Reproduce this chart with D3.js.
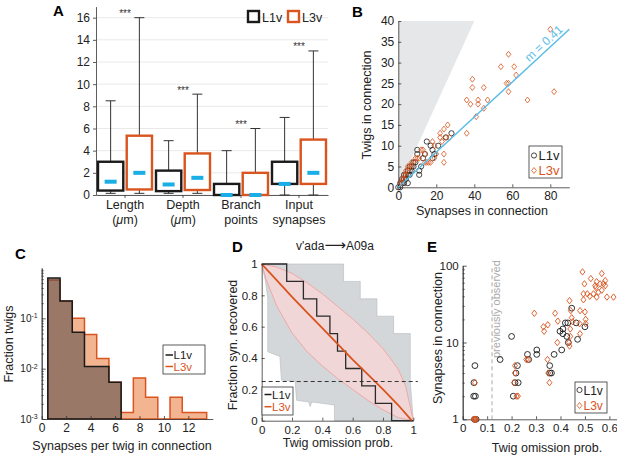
<!DOCTYPE html>
<html>
<head>
<meta charset="utf-8">
<script src="https://cdn.jsdelivr.net/npm/d3@7"></script>
<style>
  body { margin: 0; background: #fff; }
  svg { font-family: "Liberation Sans", Arial, sans-serif; }
</style>
</head>
<body>
<svg id="fig" width="617" height="458"></svg>
<script>
// ---------- data ----------
// A: box stats [whiskerLow, q1, median, q3, whiskerHigh]
const catsA = ['Length', 'Depth', 'Branch', 'Input'];
const catLinesA = [['Length', '(\u03bcm)'], ['Depth', '(\u03bcm)'], ['Branch', 'points'], ['Input', 'synapses']];
const statsL1vA = [[0.15, 0.4, 1.2, 3.0, 8.5], [0.15, 0.35, 0.95, 2.2, 4.9], [0, 0, 0, 1.0, 4.0], [0, 1.0, 1.0, 3.0, 7.0]];
const statsL3vA = [[0.15, 0.5, 2.0, 5.35, 16.0], [0.15, 0.45, 1.55, 3.75, 9.1], [0, 0, 0, 2.0, 6.0], [0, 1.0, 2.0, 5.0, 13.0]];
const ticksA = [0, 2, 4, 6, 8, 10, 12, 14, 16];

// B: [synapses, twigs]
const l1vB = [[0,0],[1,0],[1,1],[2,1],[2,2],[3,1],[3,2],[3,3],[4,2],[4,3],[5,1],[5,3],[5,4],[6,3],[6,4],[6,5],
  [7,4],[7,5],[8,5],[8,6],[9,6],[11,3],[11,4],[10,8],[10,9],[12,5],[13,7],[14,8],[15,11],[17,10],[18,9],[18,7],
  [19,8],[21,10],[25,12],[28,13]];
const l3vB = [[1,1],[2,1],[2,2],[3,2],[3,3],[4,3],[4,4],[5,4],[5,5],[6,5],[7,5],[7,6],[8,6],[9,7],[10,7],[11,7],
  [12,9],[13,9],[14,8],[14,6],[15,6],[16,6],[17,6],[18,11],[19,10],[19,7],[20,8],[22,12],[23,11],[22,13],[24,14],
  [24,8],[24,6],[25,12],[26,15],[27,12],[36,13],[36,21],[38,20],[39,26],[39,24],[42,21],[42,20],[41,17],[45,24],
  [45,19],[47,21],[54,29],[57,25],[58,25],[58,23],[58,32],[61,29],[62,27],[68,21],[80,38],[82,23]];
const fitB = [[0, 0], [90, 38]];
const impossibleB = [[0, 0], [0, 40], [40, 40]];
const ticksBx = [0, 20, 40, 60, 80];
const ticksBy = [0, 5, 10, 15, 20, 25, 30, 35, 40];

// C: fraction of twigs per synapse count (bins centred on 1..13)
const binsC = [1, 2, 3, 4, 5, 6, 7, 8, 9, 10, 11, 12, 13];
const l1vC = [0.63, 0.22, 0.053, 0.011, 0.011, 0.0054];
const l3vC = [0.58, 0.22, 0.10, 0.048, 0.016, 0.0054, 0.00135, 0.0065, 0.0027, 0, 0.0027, 0.00135, 0.00135];
const ticksCx = [0, 2, 4, 6, 8, 10, 12];
const ticksCy = [1e-3, 1e-2, 1e-1];

// D: fraction of synapses recovered vs twig omission probability
const l1vStepD = [[0,1],[0.165,0.889],[0.275,0.778],[0.363,0.667],[0.45,0.556],[0.5,0.444],[0.554,0.333],
  [0.66,0.222],[0.75,0.111],[0.857,0],[1,0]];
const greyUpperD = [[0,1],[0.54,1],[0.54,0.889],[0.65,0.889],[0.65,0.778],[0.76,0.778],[0.76,0.667],[0.87,0.667],
  [0.87,0.556],[0.98,0.556],[0.98,0.25],[1,0]];
const greyLowerD = [[0,1],[0.025,0.89],[0.04,0.78],[0.04,0.44],[0.12,0.41],[0.13,0.26],[0.22,0.25],[0.23,0.13],
  [0.31,0.12],[0.32,0.09],[0.33,0.12],[0.48,0.1],[0.48,0],[1,0]];
const l3vMeanD = [[0,1],[0.1,0.895],[0.2,0.79],[0.3,0.69],[0.4,0.59],[0.5,0.49],[0.6,0.39],[0.7,0.295],[0.8,0.2],
  [0.9,0.1],[0.99,0]];
const l3vUpperD = [[0,1],[0.1,0.98],[0.2,0.94],[0.3,0.88],[0.4,0.81],[0.5,0.73],[0.6,0.65],[0.7,0.56],[0.8,0.46],
  [0.9,0.33],[0.95,0.22],[1,0]];
const l3vLowerD = [[0,1],[0.03,0.9],[0.1,0.73],[0.2,0.56],[0.3,0.44],[0.4,0.35],[0.5,0.27],[0.6,0.2],[0.7,0.13],
  [0.8,0.07],[0.9,0.02],[1,0]];
const thresholdD = 0.25;
const ticksD = [0, 0.2, 0.4, 0.6, 0.8, 1];

// E: [twig omission prob, synapses]
const l1vE = [[0.05,5],[0.046,3],[0.045,2],[0.052,2],[0.048,1],[0.055,1],[0.153,6],[0.2,12],[0.207,2],[0.214,3],
  [0.227,3],[0.224,5],[0.218,4],[0.265,7],[0.27,6],[0.303,8],[0.303,7],[0.356,5],[0.356,4],[0.363,4],[0.374,7],
  [0.398,14],[0.41,15],[0.41,13],[0.405,8],[0.42,18],[0.43,18],[0.426,12],[0.432,10],[0.446,28],[0.464,18],[0.47,11],[0.5,16]];
const l3vE = [[0.045,1],[0.05,1],[0.055,1],[0.048,1],[0.052,1],[0.05,3],[0.22,2],[0.226,2],[0.214,5],[0.214,4],
  [0.21,3],[0.26,6],[0.268,6],[0.293,24],[0.33,16],[0.333,14],[0.348,17],[0.347,6],[0.35,4],[0.355,3],[0.378,24],
  [0.387,10],[0.389,19],[0.437,35],[0.442,26],[0.446,21],[0.45,18.6],[0.44,15],[0.44,12],[0.435,10],[0.437,9],
  [0.48,26],[0.478,17.6],[0.48,13],[0.49,83],[0.498,58],[0.494,43],[0.494,36],[0.5,25],[0.503,20],[0.503,17.6],
  [0.524,68],[0.542,55],[0.548,62],[0.569,79],[0.583,64],[0.583,55],[0.59,39],[0.535,43],[0.548,39],[0.555,45],
  [0.569,48],[0.562,58],[0.576,58],[0.617,39],[0.52,40],[0.51,43],[0.545,52]];
const prevObservedE = 0.12;
const ticksEx = [0, 0.1, 0.2, 0.3, 0.4, 0.5, 0.6];
const ticksEy = [1, 10, 100];

// ---------- style ----------
const black = '#1a1a1a', orange = '#d9541e', cyan = '#19aee6', fitBlue = '#5bbde6';
const svg = d3.select('#fig');

function styleAxis(g, fs) {
  g.attr('font-size', fs).attr('font-family', null);
  g.select('.domain').attr('stroke', '#333').attr('stroke-width', 0.8);
  g.selectAll('.tick line').attr('stroke', '#333').attr('stroke-width', 0.8);
  g.selectAll('.tick text').attr('fill', '#222');
}
function panelLabel(t, x, y) {
  svg.append('text').attr('x', x).attr('y', y).attr('font-size', 15).attr('font-weight', 'bold').text(t);
}
function rotLabel(t, x, y, fs, fill) {
  svg.append('text').attr('transform', `translate(${x},${y}) rotate(-90)`).attr('text-anchor', 'middle')
    .attr('font-size', fs).attr('fill', fill || '#222').text(t);
}
function xLabel(t, x, y, fs) {
  svg.append('text').attr('x', x).attr('y', y).attr('text-anchor', 'middle').attr('font-size', fs).attr('fill', '#222').text(t);
}
const diamond = (w, h) => `M0,${-h}L${w},0L0,${h}L${-w},0Z`;

// ---------- panel A ----------
const gA = svg.append('g');
const xA = d3.scaleBand().domain(catsA).range([96, 328]);
const xAsub = d3.scaleBand().domain(['L1v', 'L3v']).range([2, 56]).paddingInner(0.12);
const yA = d3.scaleLinear().domain([0, 17]).range([195, 6.6]);

gA.selectAll('.grid').data(ticksA).enter().append('line')
  .attr('x1', 96).attr('x2', 328).attr('y1', d => yA(d)).attr('y2', d => yA(d))
  .attr('stroke', '#e9e9e9').attr('stroke-width', 1);

gA.append('g').attr('transform', 'translate(96,0)')
  .call(d3.axisLeft(yA).tickValues(ticksA).tickSize(3).tickSizeOuter(0).tickPadding(3))
  .call(g => styleAxis(g, 12));
gA.append('g').attr('transform', 'translate(0,195)')
  .call(d3.axisBottom(xA).tickSize(3).tickSizeOuter(0).tickFormat(''))
  .call(g => styleAxis(g, 12));

catLinesA.forEach((lines, i) => {
  const cx = xA(catsA[i]) + xA.bandwidth() / 2;
  lines.forEach((s, j) => {
    const t = gA.append('text').attr('x', cx).attr('y', 209 + j * 15).attr('text-anchor', 'middle')
      .attr('font-size', 12.5).attr('fill', '#222');
    if (s.indexOf('\u03bc') >= 0) {
      t.append('tspan').text('(');
      t.append('tspan').attr('font-style', 'italic').text('\u03bc');
      t.append('tspan').text('m)');
    } else t.text(s);
  });
});

function drawBoxes(stats, key, col) {
  const bw = xAsub.bandwidth();
  stats.forEach((s, i) => {
    const x0 = xA(catsA[i]) + xAsub(key), cx = x0 + bw / 2;
    const [lo, q1, med, q3, hi] = s;
    const g = gA.append('g');
    g.append('line').attr('x1', cx).attr('x2', cx).attr('y1', yA(lo)).attr('y2', yA(hi)).attr('stroke', '#333').attr('stroke-width', 1);
    [lo, hi].forEach(v => g.append('line').attr('x1', cx - 5).attr('x2', cx + 5).attr('y1', yA(v)).attr('y2', yA(v))
      .attr('stroke', '#333').attr('stroke-width', 1));
    g.append('rect').attr('x', x0).attr('width', bw).attr('y', yA(q3)).attr('height', yA(q1) - yA(q3))
      .attr('fill', '#fff').attr('stroke', col).attr('stroke-width', 2.4);
    g.append('rect').attr('x', cx - 6).attr('width', 12).attr('y', yA(med) - 2).attr('height', 4).attr('fill', cyan);
  });
}
drawBoxes(statsL1vA, 'L1v', black);
drawBoxes(statsL3vA, 'L3v', orange);

statsL3vA.forEach((s, i) => {
  gA.append('text').attr('x', xA(catsA[i]) + xA.bandwidth() / 2).attr('y', yA(s[4]) - 0.5)
    .attr('text-anchor', 'middle').attr('font-size', 10).attr('fill', '#333').text('***');
});

[['L1v', black, 248], ['L3v', orange, 288]].forEach(([k, c, x]) => {
  gA.append('rect').attr('x', x).attr('y', 11).attr('width', 11).attr('height', 11).attr('fill', '#fff')
    .attr('stroke', c).attr('stroke-width', 2.4);
  gA.append('text').attr('x', x + 14).attr('y', 21.5).attr('font-size', 12.5).attr('fill', '#222').text(k);
});
panelLabel('A', 53, 16);

// ---------- panel B ----------
const gB = svg.append('g');
const xB = d3.scaleLinear().domain([0, 90]).range([398.3, 569.3]);
const yB = d3.scaleLinear().domain([0, 40]).range([187.3, 21]);
gB.append('path').attr('d', d3.line().x(d => xB(d[0])).y(d => yB(d[1]))(impossibleB) + 'Z').attr('fill', '#e6e7e8');

gB.append('g').attr('transform', 'translate(398.3,0)')
  .call(d3.axisLeft(yB).tickValues(ticksBy).tickSize(-3).tickSizeOuter(0).tickPadding(4))
  .call(g => styleAxis(g, 12));
gB.append('g').attr('transform', 'translate(0,187.3)')
  .call(d3.axisBottom(xB).tickValues(ticksBx).tickSize(-3).tickSizeOuter(0).tickPadding(4))
  .call(g => styleAxis(g, 12));

gB.selectAll('.l1v').data(l1vB).enter().append('circle')
  .attr('cx', d => xB(d[0])).attr('cy', d => yB(d[1])).attr('r', 2.6)
  .attr('fill', 'none').attr('stroke', black).attr('stroke-width', 0.8);
gB.selectAll('.l3v').data(l3vB).enter().append('path')
  .attr('transform', d => `translate(${xB(d[0])},${yB(d[1])})`).attr('d', diamond(2.4, 3))
  .attr('fill', 'none').attr('stroke', orange).attr('stroke-width', 0.8);
gB.append('path').attr('d', d3.line().x(d => xB(d[0])).y(d => yB(d[1]))(fitB))
  .attr('stroke', fitBlue).attr('stroke-width', 1.5).attr('fill', 'none');
{
  const ang = Math.atan2(yB(fitB[1][1]) - yB(fitB[0][1]), xB(fitB[1][0]) - xB(fitB[0][0])) * 180 / Math.PI;
  const px = xB(78), py = yB(fitB[1][1] * 78 / 90) - 4;
  gB.append('text').attr('transform', `translate(${px},${py}) rotate(${ang})`).attr('text-anchor', 'middle')
    .attr('font-size', 12).attr('fill', fitBlue).text('m = 0.41');
}
gB.append('rect').attr('x', 529).attr('y', 146).attr('width', 33).attr('height', 32)
  .attr('fill', '#fff').attr('stroke', '#333').attr('stroke-width', 0.8);
gB.append('circle').attr('cx', 534).attr('cy', 155.5).attr('r', 2.6).attr('fill', 'none').attr('stroke', black).attr('stroke-width', 0.8);
gB.append('path').attr('transform', 'translate(534,170.5)').attr('d', diamond(2.4, 3)).attr('fill', 'none').attr('stroke', orange).attr('stroke-width', 0.8);
gB.append('text').attr('x', 538.5).attr('y', 160).attr('font-size', 13).attr('fill', '#222').text('L1v');
gB.append('text').attr('x', 538.5).attr('y', 175).attr('font-size', 13).attr('fill', orange).text('L3v');
rotLabel('Twigs in connection', 371, 105, 12.5);
xLabel('Synapses in connection', 482, 215, 12.5);
panelLabel('B', 352, 17);

// ---------- panel C ----------
const gC = svg.append('g');
const xC = d3.scaleLinear().domain([0, 14]).range([41.7, 212.8]);
const yC = d3.scaleLog().domain([1e-3, 1]).range([419, 268]);
function histPts(vals) {
  const base = 1e-3, pts = [[binsC[0] - 0.5, base]];
  vals.forEach((v, i) => {
    const vv = v > 0 ? v : base;
    pts.push([binsC[i] - 0.5, vv], [binsC[i] + 0.5, vv]);
  });
  pts.push([binsC[vals.length - 1] + 0.5, base]);
  return pts;
}
const histLine = d3.line().x(d => xC(d[0])).y(d => yC(d[1]));
gC.append('path').attr('d', histLine(histPts(l3vC)) + 'Z').attr('fill', '#f3b591').attr('stroke', orange).attr('stroke-width', 1.5);
gC.append('path').attr('d', histLine(histPts(l1vC)) + 'Z').attr('fill', 'rgba(80,70,70,0.55)').attr('stroke', black).attr('stroke-width', 1.5);

const minorC = [];
[1e-3, 1e-2, 1e-1].forEach(dec => d3.range(2, 10).forEach(m => minorC.push(dec * m)));
gC.append('g').attr('transform', 'translate(41.7,0)')
  .call(d3.axisLeft(yC).tickValues(minorC).tickSize(-2).tickSizeOuter(0).tickFormat(''))
  .call(g => styleAxis(g, 11));
gC.append('g').attr('transform', 'translate(41.7,0)')
  .call(d3.axisLeft(yC).tickValues(ticksCy).tickSize(-4).tickSizeOuter(0).tickPadding(4).tickFormat(''))
  .call(g => styleAxis(g, 11))
  .call(g => g.selectAll('.tick text').each(function (d) {
    const t = d3.select(this).attr('font-size', 10);
    t.append('tspan').text('10');
    t.append('tspan').attr('dy', '-0.55em').attr('font-size', 7).text(Math.round(Math.log10(d)));
  }));
gC.append('g').attr('transform', 'translate(0,419)')
  .call(d3.axisBottom(xC).tickValues(ticksCx).tickSize(-3).tickSizeOuter(0).tickPadding(4))
  .call(g => styleAxis(g, 12));

gC.append('rect').attr('x', 163).attr('y', 345).attr('width', 42).attr('height', 29)
  .attr('fill', '#fff').attr('stroke', '#333').attr('stroke-width', 0.8);
[['L1v', black, 355], ['L3v', orange, 366.5]].forEach(([k, c, y]) => {
  gC.append('line').attr('x1', 165.5).attr('x2', 173).attr('y1', y).attr('y2', y).attr('stroke', c).attr('stroke-width', 1.5);
  gC.append('text').attr('x', 173.5).attr('y', y + 4).attr('font-size', 11.5).attr('fill', c === black ? '#222' : c).text(k);
});
rotLabel('Fraction twigs', 13, 344, 12.5);
xLabel('Synapses per twig in connection', 122, 450, 12.5);
panelLabel('C', 15, 259);

// ---------- panel D ----------
const gD = svg.append('g');
const xD = d3.scaleLinear().domain([0, 1]).range([261.7, 413.3]);
const yD = d3.scaleLinear().domain([0, 1]).range([420.7, 264]);
const lineD = d3.line().x(d => xD(d[0])).y(d => yD(d[1]));
gD.append('path').attr('d', lineD(greyUpperD.concat(greyLowerD.slice().reverse())) + 'Z')
  .attr('fill', '#d4d7d9').attr('stroke', '#b6babd').attr('stroke-width', 0.6);
gD.append('path').attr('d', lineD(l3vUpperD.concat(l3vLowerD.slice().reverse())) + 'Z')
  .attr('fill', '#f4d6d6').attr('fill-opacity', 0.9);
[l3vUpperD, l3vLowerD].forEach(a => gD.append('path').attr('d', lineD(a)).attr('fill', 'none')
  .attr('stroke', '#f0a2a2').attr('stroke-width', 0.9));
gD.append('path').attr('d', lineD.curve(d3.curveStepAfter)(l1vStepD)).attr('fill', 'none')
  .attr('stroke', '#2a2a2a').attr('stroke-width', 1.3);
lineD.curve(d3.curveLinear);
gD.append('path').attr('d', lineD(l3vMeanD)).attr('fill', 'none').attr('stroke', orange).attr('stroke-width', 1.8);
gD.append('line').attr('x1', xD(0)).attr('x2', xD(1.03)).attr('y1', yD(thresholdD)).attr('y2', yD(thresholdD))
  .attr('stroke', '#333').attr('stroke-width', 1).attr('stroke-dasharray', '4,3');

gD.append('g').attr('transform', 'translate(261.7,0)')
  .call(d3.axisLeft(yD).tickValues(ticksD).tickSize(-3).tickSizeOuter(0).tickPadding(4).tickFormat(d3.format('~g')))
  .call(g => styleAxis(g, 11.5));
gD.append('g').attr('transform', 'translate(0,420.7)')
  .call(d3.axisBottom(xD).tickValues(ticksD).tickSize(-3).tickSizeOuter(0).tickPadding(5).tickFormat(d3.format('~g')))
  .call(g => styleAxis(g, 11.5));

gD.append('rect').attr('x', 262).attr('y', 387).attr('width', 31).attr('height', 28)
  .attr('fill', '#fff').attr('stroke', '#333').attr('stroke-width', 0.8);
[['L1v', black, 394.5], ['L3v', orange, 406.7]].forEach(([k, c, y]) => {
  gD.append('line').attr('x1', 264.5).attr('x2', 271.5).attr('y1', y).attr('y2', y).attr('stroke', c).attr('stroke-width', 1.5);
  gD.append('text').attr('x', 272).attr('y', y + 4).attr('font-size', 11.5).attr('fill', c === black ? '#222' : c).text(k);
});
{
  const t = gD.append('text').attr('x', 335).attr('y', 250).attr('text-anchor', 'middle').attr('font-size', 12).attr('fill', '#222');
  t.append('tspan').text("v'ada");
  t.append('tspan').attr('font-size', 15).attr('font-family', 'DejaVu Sans').text('\u27f6');
  t.append('tspan').text('A09a');
}
rotLabel('Fraction syn. recovered', 237, 345, 12.5);
xLabel('Twig omission prob.', 338, 447, 12.5);
panelLabel('D', 232, 252);

// ---------- panel E ----------
const gE = svg.append('g');
const xE = d3.scaleLinear().domain([0, 0.63]).range([462.7, 616.7]);
const yE = d3.scaleLog().domain([1, 100]).range([419.3, 265.7]);
gE.append('line').attr('x1', xE(prevObservedE)).attr('x2', xE(prevObservedE)).attr('y1', yE(1)).attr('y2', yE(100))
  .attr('stroke', '#aaa').attr('stroke-width', 1).attr('stroke-dasharray', '4,3');
gE.append('text').attr('transform', `translate(${xE(prevObservedE) + 8},358) rotate(-90)`)
  .attr('font-size', 11).attr('fill', '#aaa').text('previously observed');

const minorE = [];
[1, 10].forEach(dec => d3.range(2, 10).forEach(m => minorE.push(dec * m)));
gE.append('g').attr('transform', 'translate(462.7,0)')
  .call(d3.axisLeft(yE).tickValues(minorE).tickSize(-2).tickSizeOuter(0).tickFormat(''))
  .call(g => styleAxis(g, 11));
gE.append('g').attr('transform', 'translate(462.7,0)')
  .call(d3.axisLeft(yE).tickValues(ticksEy).tickSize(-4).tickSizeOuter(0).tickPadding(4).tickFormat(d3.format('d')))
  .call(g => styleAxis(g, 11.5));
gE.append('g').attr('transform', 'translate(0,419.3)')
  .call(d3.axisBottom(xE).tickValues(ticksEx).tickSize(-3).tickSizeOuter(0).tickPadding(5).tickFormat(d3.format('~g')))
  .call(g => styleAxis(g, 11.5));

gE.selectAll('.l1v').data(l1vE).enter().append('circle')
  .attr('cx', d => xE(d[0])).attr('cy', d => yE(d[1])).attr('r', 2.9)
  .attr('fill', 'none').attr('stroke', black).attr('stroke-width', 0.9);
gE.selectAll('.l3v').data(l3vE).enter().append('path')
  .attr('transform', d => `translate(${xE(d[0])},${yE(d[1])})`).attr('d', diamond(2.5, 3.2))
  .attr('fill', 'none').attr('stroke', orange).attr('stroke-width', 0.9);

gE.append('rect').attr('x', 575).attr('y', 382).attr('width', 32).attr('height', 31)
  .attr('fill', '#fff').attr('stroke', '#333').attr('stroke-width', 0.8);
gE.append('circle').attr('cx', 579.5).attr('cy', 390).attr('r', 2.6).attr('fill', 'none').attr('stroke', black).attr('stroke-width', 0.8);
gE.append('path').attr('transform', 'translate(579.5,405.5)').attr('d', diamond(2.4, 3)).attr('fill', 'none').attr('stroke', orange).attr('stroke-width', 0.8);
gE.append('text').attr('x', 583.5).attr('y', 394.5).attr('font-size', 12).attr('fill', '#222').text('L1v');
gE.append('text').attr('x', 583.5).attr('y', 410).attr('font-size', 12).attr('fill', orange).text('L3v');
rotLabel('Synapses in connection', 442, 338, 12.5);
xLabel('Twig omission prob.', 547, 452, 12.5);
panelLabel('E', 427, 252);
</script>
</body>
</html>
